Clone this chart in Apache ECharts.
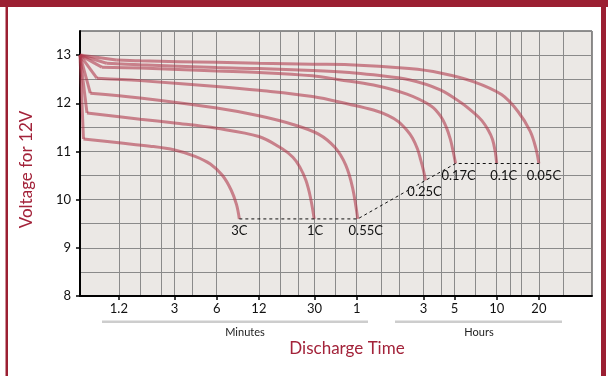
<!DOCTYPE html>
<html>
<head>
<meta charset="utf-8">
<script src="https://cdn.jsdelivr.net/npm/echarts@6/dist/echarts.min.js"></script>
<style>
html,body{margin:0;padding:0;background:#fff;}
#chart{width:608px;height:376px;}
</style>
</head>
<body>
<div id="chart"></div>
<script>
// ---- Axis data ----
const tickMinutes = [1.2, 3, 6, 12, 30, 60, 180, 300, 600, 1200];
const tickLabels = ['1.2', '3', '6', '12', '30', '1', '3', '5', '10', '20'];
const gridMinutes = [1.2, 1.7, 2.4, 3, 4, 6, 12, 17, 23, 30, 42, 60, 90, 120, 180, 240, 300, 420, 600, 750, 900, 1200, 1800];
const voltTicks = [8, 9, 10, 11, 12, 13];
const xMin = 0.633, xMax = 2875;

// ---- Series data (time in minutes, voltage in V) ----
const rateNames = ['3C', '1C', '0.55C', '0.25C', '0.17C', '0.1C', '0.05C'];
const t3C = [0.633, 0.67, 1.2, 2.0, 3.0, 4.2, 5.4, 6.6, 7.6, 8.3, 8.7];
const v3C = [13.0, 11.26, 11.18, 11.11, 11.03, 10.9, 10.74, 10.5, 10.2, 9.9, 9.6];
const t1C = [0.633, 0.71, 1.7, 3.0, 6, 12, 17.5, 21, 23.5, 26, 28, 29.8];
const v1C = [13.0, 11.80, 11.67, 11.59, 11.48, 11.31, 11.06, 10.88, 10.68, 10.4, 10.05, 9.6];
const t055C = [0.633, 0.75, 1.7, 6, 12, 21, 32, 42, 50, 56, 61];
const v055C = [13.0, 12.21, 12.11, 11.90, 11.74, 11.56, 11.36, 11.08, 10.72, 10.25, 9.6];
const t025C = [0.633, 0.835, 1.7, 6, 12, 29, 53, 79, 100, 119, 136, 150, 163, 172, 180, 186];
const v025C = [13.0, 12.52, 12.47, 12.35, 12.27, 12.14, 11.98, 11.86, 11.75, 11.62, 11.45, 11.28, 11.05, 10.82, 10.6, 10.4];
const t017C = [0.633, 0.905, 1.7, 6, 12, 29, 45, 79, 137, 205, 240, 262, 280, 293, 305];
const v017C = [13.0, 12.75, 12.73, 12.67, 12.64, 12.57, 12.49, 12.38, 12.19, 11.94, 11.72, 11.5, 11.25, 11.0, 10.75];
const t01C = [0.633, 0.98, 1.7, 6, 12, 29, 53, 79, 142, 237, 338, 420, 470, 520, 560, 585, 600];
const v01C = [13.0, 12.83, 12.80, 12.74, 12.72, 12.68, 12.64, 12.59, 12.49, 12.28, 12.0, 11.78, 11.64, 11.45, 11.25, 11.0, 10.75];
const t005C = [0.633, 1.15, 1.7, 6, 12, 29, 53, 142, 237, 408, 649, 851, 1039, 1141, 1200];
const v005C = [13.0, 12.90, 12.88, 12.85, 12.83, 12.81, 12.80, 12.72, 12.63, 12.45, 12.18, 11.83, 11.42, 11.07, 10.75];
// end-of-discharge (cut-off) line
const tCut = [8.7, 61, 186, 305, 1200];
const vCut = [9.6, 9.6, 10.4, 10.75, 10.75];

const curveT = [t3C, t1C, t055C, t025C, t017C, t01C, t005C];
const curveV = [v3C, v1C, v055C, v025C, v017C, v01C, v005C];
const labelOffsets = [[0, 0], [1, 0], [8, 0], [-1, 0], [3, 1], [7, 1], [5, 1]];

const FONT = "Lato, 'Noto Sans', sans-serif";
const RED = '#a3233a';
const CURVE = {color: '#b03a4c', width: 3, opacity: 0.6};

const chart = echarts.init(document.getElementById('chart'), null, {renderer: 'canvas'});

const series = [];
curveT.forEach((ts, i) => {
  const vs = curveV[i];
  // initial voltage drop (straight)
  series.push({
    name: rateNames[i] + ' start', type: 'line',
    data: [[ts[0], vs[0]], [ts[1], vs[1]]],
    symbol: 'none', lineStyle: CURVE, z: 3, silent: true
  });
  // discharge curve (smooth)
  const data = [];
  for (let j = 1; j < ts.length; j++) {
    if (j === ts.length - 1) {
      data.push({
        value: [ts[j], vs[j]],
        label: {
          show: true, position: 'bottom', distance: 5, formatter: rateNames[i],
          offset: labelOffsets[i], color: '#111', fontSize: 13, fontFamily: FONT
        }
      });
    } else {
      data.push([ts[j], vs[j]]);
    }
  }
  series.push({
    name: rateNames[i], type: 'line', data: data,
    smooth: 0.35, symbol: 'circle', symbolSize: 0, showSymbol: true,
    lineStyle: CURVE, itemStyle: {color: 'rgba(0,0,0,0)'},
    z: 3, silent: true
  });
});
series.push({
  name: 'cut-off', type: 'line', data: tCut.map((t, j) => [t, vCut[j]]),
  symbol: 'none', lineStyle: {color: '#111', width: 1, type: [3, 3]}, z: 4, silent: true
});

const fmtX = (val) => {
  let best = 0, bd = Infinity;
  tickMinutes.forEach((m, k) => { const d = Math.abs(Math.log(val) - Math.log(m)); if (d < bd) { bd = d; best = k; } });
  return bd < 0.01 ? tickLabels[best] : '';
};

chart.setOption({
  animation: false,
  backgroundColor: '#ffffff',
  textStyle: {fontFamily: FONT},
  grid: {left: 80, right: 16, top: 31, bottom: 80, show: true, backgroundColor: '#ebe8e5', borderColor: '#222', borderWidth: 1},
  xAxis: [
    {
      type: 'log', logBase: 10, min: xMin, max: xMax, position: 'bottom',
      axisLine: {show: true, onZero: false, lineStyle: {color: '#000', width: 2}},
      axisTick: {show: true, customValues: tickMinutes, length: 4, lineStyle: {color: '#000', width: 1.5}},
      axisLabel: {customValues: tickMinutes, formatter: fmtX, color: '#111', fontSize: 13, margin: 6, fontFamily: FONT},
      splitLine: {show: false}, minorTick: {show: false}, minorSplitLine: {show: false},
      name: 'Discharge Time', nameLocation: 'middle', nameGap: 44,
      nameTextStyle: {color: RED, fontSize: 17, fontFamily: FONT, padding: [0, 0, 0, 22]}
    },
    {
      type: 'log', logBase: 10, min: xMin, max: xMax, position: 'top',
      axisLine: {show: false}, axisLabel: {show: false},
      axisTick: {show: false, customValues: gridMinutes},
      splitLine: {show: true, lineStyle: {color: '#8a8a8a', width: 1}}
    }
  ],
  yAxis: [
    {
      type: 'value', min: 8, max: 13.5, interval: 0.5,
      axisLine: {show: true, onZero: false, lineStyle: {color: '#000', width: 2}},
      axisTick: {show: false},
      axisLabel: {formatter: (v) => (Math.abs(v - Math.round(v)) < 1e-6 && v < 13.4) ? String(Math.round(v)) : '', color: '#111', fontSize: 13, margin: 9, fontFamily: FONT},
      splitLine: {show: true, lineStyle: {color: '#8a8a8a', width: 1}},
      name: 'Voltage for 12V', nameLocation: 'middle', nameGap: 45, nameRotate: 90,
      nameTextStyle: {color: RED, fontSize: 17, fontFamily: FONT, padding: [0, 12, 0, 0]}
    },
    {
      type: 'value', min: 8, max: 13.5, interval: 1, position: 'left',
      axisLine: {show: false}, axisLabel: {show: false}, splitLine: {show: false},
      axisTick: {show: true, customValues: voltTicks, length: 4, lineStyle: {color: '#000', width: 1.5}}
    }
  ],
  graphic: [
    {type: 'rect', shape: {x: 0, y: 0, width: 608, height: 7}, style: {fill: '#9b1f32'}, silent: true},
    {type: 'rect', shape: {x: 5.5, y: 0, width: 2.5, height: 376}, style: {fill: '#9b1f32'}, silent: true},
    {type: 'rect', shape: {x: 601, y: 0, width: 5, height: 376}, style: {fill: '#9b1f32'}, silent: true},
    {type: 'rect', shape: {x: 102, y: 320.5, width: 266, height: 2.5}, style: {fill: '#cdcdcd'}, silent: true},
    {type: 'rect', shape: {x: 395, y: 320.5, width: 167, height: 2.5}, style: {fill: '#cdcdcd'}, silent: true},
    {type: 'text', x: 245, y: 332, style: {text: 'Minutes', fill: '#222', font: '11px ' + FONT, textAlign: 'center', textVerticalAlign: 'middle'}, silent: true},
    {type: 'text', x: 479, y: 332.5, style: {text: 'Hours', fill: '#222', font: '11px ' + FONT, textAlign: 'center', textVerticalAlign: 'middle'}, silent: true}
  ],
  series: series
});
</script>
</body>
</html>
